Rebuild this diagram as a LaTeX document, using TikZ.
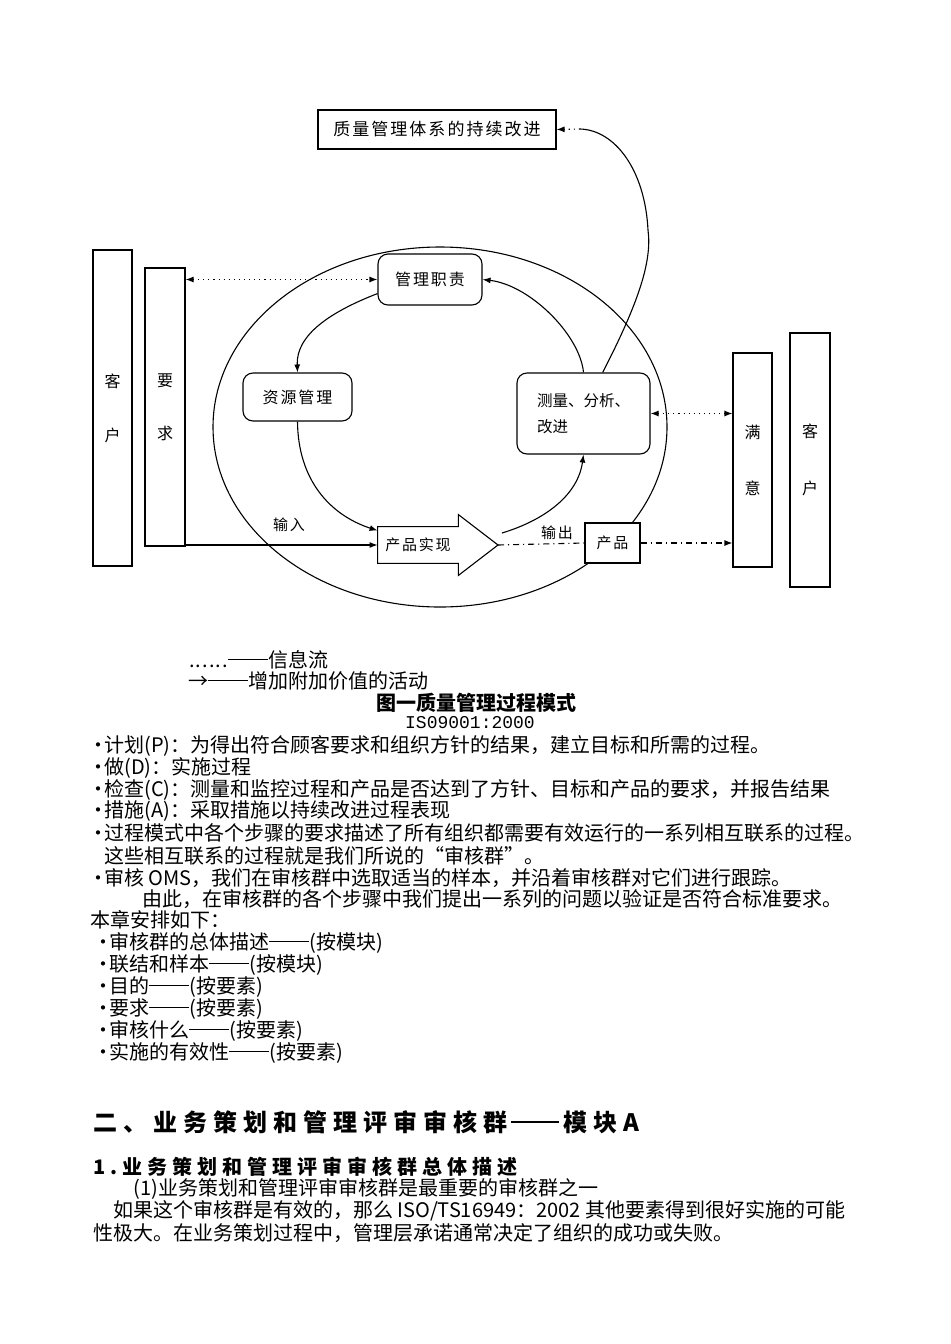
\documentclass[tikz,border=0pt]{standalone}
\usepackage{fontspec}
\setmainfont{Noto Sans CJK SC}
\setmonofont{Liberation Mono}
\newfontfamily\wide[LetterSpace=12]{Noto Sans CJK SC}
\newfontfamily\wider[LetterSpace=25]{Noto Sans CJK SC}
\usepackage{tikz}
\usetikzlibrary{arrows.meta}
\newcommand{\bul}{\makebox[6pt][c]{•}}
\newcommand{\dd}{\rule[0.36em]{2em}{0.06em}}
\newcommand{\ellip}{\makebox[2em][s]{\hfil.\hfil.\hfil.\hfil\hfil.\hfil.\hfil.\hfil}}
\tikzset{
	sbox/.style={draw, line width=0.55pt, fill=white, inner sep=0pt, font=\wide\fontsize{8pt}{10pt}\selectfont},
	rbox/.style={sbox, rounded corners=5pt},
	colbox/.style={draw, line width=0.55pt, inner sep=0pt, align=center},
	act/.style={line width=0.55pt, -{Latex[length=4pt,width=3pt]}},
	info/.style={line width=0.55pt, dotted, {Latex[length=4pt,width=3pt]}-{Latex[length=4pt,width=3pt]}},
	txt/.style={anchor=west, inner sep=0pt, font=\fontsize{10pt}{12pt}\selectfont},
}

\begin{document}
\begin{tikzpicture}[x=0.5pt,y=-0.5pt]
	\useasboundingbox (0,0) rectangle (950,1344);

	\draw[line width=0.55pt] (440,427) ellipse [x radius=113.5pt, y radius=90pt];

	\node[sbox, minimum width=119pt, minimum height=19.5pt, font=\wide\fontsize{8.5pt}{10pt}\selectfont] (imp) at (437,129.5) {质量管理体系的持续改进};
	\node[rbox, minimum width=52pt, minimum height=25.5pt] (duty) at (430,279.5) {管理职责};
	\node[rbox, minimum width=54.5pt, minimum height=24pt] (res) at (297.5,397) {资源管理};
	\node[rbox, minimum width=66.5pt, minimum height=40.5pt, align=left, font=\fontsize{7.75pt}{13pt}\selectfont] (meas) at (583.5,413.5) {测量、分析、\\改进};
	\node[sbox, minimum width=27.5pt, minimum height=20pt, font=\wide\fontsize{7.5pt}{9pt}\selectfont] (prod) at (612.5,543) {产品};

	\node[inner sep=0pt, minimum width=40pt, minimum height=18pt, font=\wide\fontsize{7.5pt}{9pt}\selectfont] (real) at (418,545) {产品实现};
	\coordinate (tip) at (498,545);
	\draw[line width=0.55pt] (real.north west) -- (real.north east) -- ([yshift=6pt]real.north east) -- (tip)
		-- ([yshift=-6pt]real.south east) -- (real.south east) -- (real.south west) -- cycle;

	\node[colbox, minimum width=19.5pt, minimum height=158pt, font=\fontsize{8pt}{27pt}\selectfont] (custL) at (112.5,408) {客\\户};
	\node[colbox, minimum width=20pt, minimum height=139pt, font=\fontsize{8pt}{26.5pt}\selectfont] (req) at (165,407) {要\\求};
	\node[colbox, minimum width=19.5pt, minimum height=107pt, font=\fontsize{8pt}{28pt}\selectfont] (sat) at (752.5,460) {满\\意};
	\node[colbox, minimum width=20pt, minimum height=127pt, font=\fontsize{8pt}{28.5pt}\selectfont] (custR) at (810,460) {客\\户};

	\node[font=\wide\fontsize{7.5pt}{9pt}\selectfont] (inlab) at (289,525) {输入};
	\node[font=\wide\fontsize{7.5pt}{9pt}\selectfont] (outlab) at (557,533) {输出};

	\coordinate (realout) at (502,533);
	\coordinate (bend) at (648,230);
	\coordinate (impin) at (580,129);

	\draw[act] (req.east |- real.west) -- (real.west);
	\draw[info] (req.east |- duty.west) -- (duty.west);
	\draw[act] (duty.195) .. controls (330,312) and (296,335) .. (res.north);
	\draw[act] (res.south) .. controls (298,480) and (330,515) .. ([yshift=-2pt]real.north west);
	\draw[act] (realout) .. controls (545,520) and (578,495) .. (meas.south);
	\draw[act] (meas.north) .. controls (580,335) and (530,285) .. (duty.east);
	\draw[line width=0.55pt] (meas.65) .. controls (640,300) and (652,260) .. (bend)
		.. controls (645,170) and (615,130) .. (impin);
	\draw[line width=0.55pt, dotted, -{Latex[length=4pt,width=3pt]}] (impin) -- (imp.east);
	\draw[info] (meas.east) -- (meas.east -| sat.west);
	\draw[line width=0.55pt, dash dot, -{Latex[length=4pt,width=3pt]}] (prod.east) -- (prod.east -| sat.west);
	\draw[line width=0.55pt, dash dot] (tip) -- (prod.west);

	\node[txt] (leg1) at (188,660) {\ellip\dd 信息流};
	\node[txt] (leg2) at (188,681) {→\dd 增加附加价值的活动};
	\node[font=\bfseries\fontsize{10pt}{12pt}\selectfont, inner sep=0pt] (title) at (476,703) {图一质量管理过程模式};
	\node[font=\ttfamily\fontsize{9pt}{11pt}\selectfont, inner sep=0pt] (std) at (470,723) {IS09001:2000};

	\node[txt] (l1) at (92,746) {\bul 计划(P)：为得出符合顾客要求和组织方针的结果，建立目标和所需的过程。};
	\node[txt] (l2) at (92,768) {\bul 做(D)：实施过程};
	\node[txt] (l3) at (92,790) {\bul 检查(C)：测量和监控过程和产品是否达到了方针、目标和产品的要求，并报告结果};
	\node[txt] (l4) at (92,811) {\bul 措施(A)：采取措施以持续改进过程表现};
	\node[txt] (l5) at (92,833) {\bul 过程模式中各个步骤的要求描述了所有组织都需要有效运行的一系列相互联系的过程。};
	\node[txt] (l6) at (104,856) {这些相互联系的过程就是我们所说的“审核群”。};
	\node[txt] (l7) at (92,878) {\bul 审核 OMS，我们在审核群中选取适当的样本，并沿着审核群对它们进行跟踪。};
	\node[txt] (l8) at (142,899) {由此，在审核群的各个步骤中我们提出一系列的问题以验证是否符合标准要求。};
	\node[txt] (l9) at (90,920) {本章安排如下：};
	\node[txt] (m1) at (97,943) {\bul 审核群的总体描述\dd(按模块)};
	\node[txt] (m2) at (97,965) {\bul 联结和样本\dd(按模块)};
	\node[txt] (m3) at (97,987) {\bul 目的\dd(按要素)};
	\node[txt] (m4) at (97,1009) {\bul 要求\dd(按要素)};
	\node[txt] (m5) at (97,1031) {\bul 审核什么\dd(按要素)};
	\node[txt] (m6) at (97,1053) {\bul 实施的有效性\dd(按要素)};

	\node[txt, font=\wider\bfseries\fontsize{12pt}{14pt}\selectfont] (head) at (93,1122) {二、业务策划和管理评审审核群\,\dd\,模块A};
	\node[txt, font=\wider\bfseries\fontsize{10pt}{12pt}\selectfont] (sub) at (93,1167) {1.业务策划和管理评审审核群总体描述};
	\node[txt] (n1) at (133,1189) {(1)业务策划和管理评审审核群是最重要的审核群之一};
	\node[txt] (n2) at (113,1211) {如果这个审核群是有效的，那么 ISO/TS16949：2002 其他要素得到很好实施的可能};
	\node[txt] (n3) at (93,1233) {性极大。在业务策划过程中，管理层承诺通常决定了组织的成功或失败。};
\end{tikzpicture}
\end{document}
